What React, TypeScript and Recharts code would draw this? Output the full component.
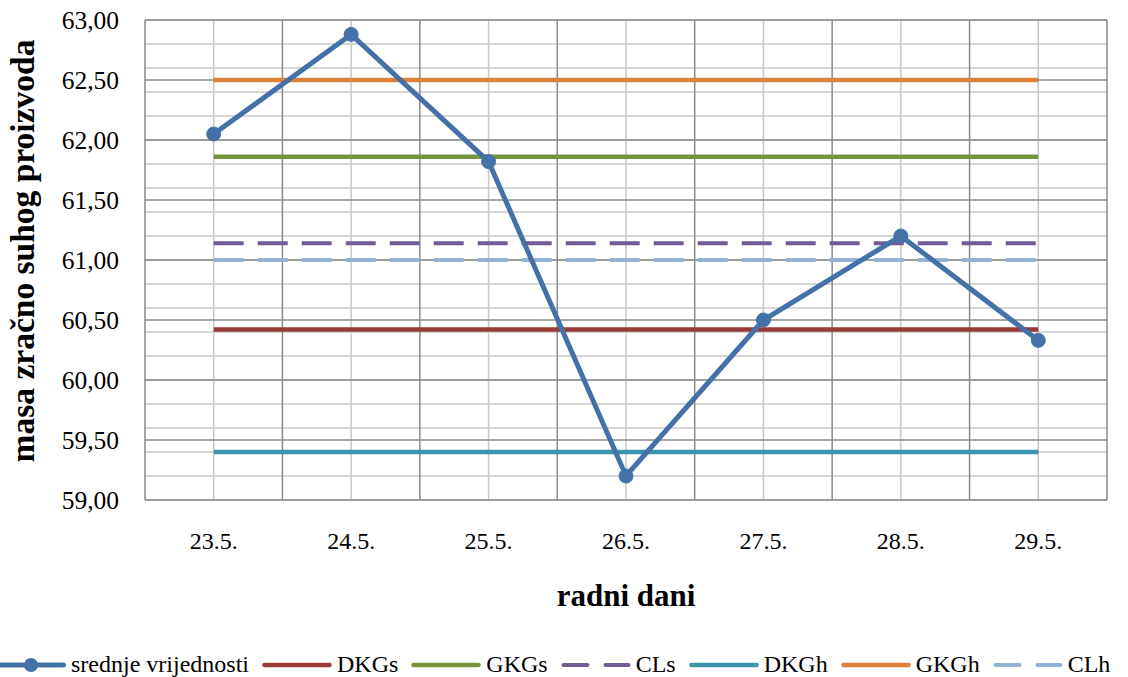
import React from "react";
import { CartesianGrid, Line, LineChart, XAxis, YAxis, Label } from "recharts";

const days = ["23.5.", "24.5.", "25.5.", "26.5.", "27.5.", "28.5.", "29.5."];
const srednje = [62.05, 62.88, 61.82, 59.2, 60.5, 61.2, 60.33];
const dkgs = [60.42, 60.42, 60.42, 60.42, 60.42, 60.42, 60.42];
const gkgs = [61.86, 61.86, 61.86, 61.86, 61.86, 61.86, 61.86];
const cls = [61.14, 61.14, 61.14, 61.14, 61.14, 61.14, 61.14];
const dkgh = [59.4, 59.4, 59.4, 59.4, 59.4, 59.4, 59.4];
const gkgh = [62.5, 62.5, 62.5, 62.5, 62.5, 62.5, 62.5];
const clh = [61.0, 61.0, 61.0, 61.0, 61.0, 61.0, 61.0];

const yTicks = [59, 59.5, 60, 60.5, 61, 61.5, 62, 62.5, 63];
const xCenters = [0.5, 1.5, 2.5, 3.5, 4.5, 5.5, 6.5];
const xBounds = [0, 1, 2, 3, 4, 5, 6, 7];
const yMinor = Array.from({ length: 41 }, (_, i) => +(59 + i * 0.1).toFixed(1));

const data = days.map((d, i) => ({
  x: xCenters[i],
  day: d,
  srednje: srednje[i],
  dkgs: dkgs[i],
  gkgs: gkgs[i],
  cls: cls[i],
  dkgh: dkgh[i],
  gkgh: gkgh[i],
  clh: clh[i],
}));

const FONT = "'Liberation Serif', 'Times New Roman', serif";

const series = [
  { key: "srednje", name: "srednje vrijednosti", color: "#4472a8", dash: undefined, width: 5 },
  { key: "dkgs", name: "DKGs", color: "#983a36", dash: undefined, width: 4.5 },
  { key: "gkgs", name: "GKGs", color: "#77953c", dash: undefined, width: 4.5 },
  { key: "cls", name: "CLs", color: "#735b95", dash: "30 14", width: 4 },
  { key: "dkgh", name: "DKGh", color: "#3a94ae", dash: undefined, width: 4.5 },
  { key: "gkgh", name: "GKGh", color: "#e0803a", dash: undefined, width: 4.5 },
  { key: "clh", name: "CLh", color: "#94b1d6", dash: "30 14", width: 4 },
];

const fmt = (v: number) => v.toFixed(2).replace(".", ",");

function XTick(props: any) {
  const { x, y, payload } = props;
  return (
    <text x={x} y={y + 41} textAnchor="middle" fontFamily={FONT} fontSize={24} fill="#000">
      {days[Math.round(payload.value - 0.5)]}
    </text>
  );
}

function YTick(props: any) {
  const { y, payload } = props;
  return (
    <text x={119} y={y + 9} textAnchor="end" fontFamily={FONT} fontSize={25.5} fill="#000">
      {fmt(payload.value)}
    </text>
  );
}

function LegendRow() {
  return (
    <div
      style={{
        position: "absolute",
        left: -4,
        top: 651,
        width: 1140,
        display: "flex",
        alignItems: "center",
        fontFamily: FONT,
        fontSize: 24,
        color: "#000",
        whiteSpace: "nowrap",
      }}
    >
      {series.map((s) => (
        <div key={s.key} style={{ display: "flex", alignItems: "center", marginRight: 13 }}>
          <svg width={70} height={20} style={{ marginRight: 5 }}>
            <line
              x1={2.5}
              x2={67.5}
              y1={10}
              y2={10}
              stroke={s.color}
              strokeWidth={s.width}
              strokeLinecap="round"
              strokeDasharray={s.dash ? "24 18" : undefined}
            />
            {s.key === "srednje" ? <circle cx={35} cy={10} r={7} fill={s.color} /> : null}
          </svg>
          <span>{s.name}</span>
        </div>
      ))}
    </div>
  );
}

export default function App() {
  return (
    <div
      style={{
        position: "absolute",
        left: 0,
        top: 0,
        width: 1128,
        height: 677,
        background: "#fff",
        fontFamily: FONT,
        overflow: "hidden",
      }}
    >
      <LineChart width={1128} height={677} data={data} margin={{ top: 20, right: 21, bottom: 67, left: 0 }}>
        <CartesianGrid stroke="#c8c8c8" strokeWidth={1.5} horizontalValues={yMinor} verticalValues={xCenters} />
        <CartesianGrid stroke="#8a8a8a" strokeWidth={1.5} horizontalValues={yTicks} verticalValues={xBounds} />
        <XAxis
          dataKey="x"
          type="number"
          domain={[0, 7]}
          ticks={xCenters}
          axisLine={false}
          tickLine={false}
          height={110}
          tick={<XTick />}
        >
          <Label
            content={() => (
              <text x={626} y={606} textAnchor="middle" fontFamily={FONT} fontSize={31} fontWeight="bold" fill="#000">
                radni dani
              </text>
            )}
          />
        </XAxis>
        <YAxis
          type="number"
          domain={[59, 63]}
          ticks={yTicks}
          axisLine={false}
          tickLine={false}
          width={145}
          tick={<YTick />}
        >
          <Label
            content={() => (
              <text
                x={0}
                y={0}
                transform="translate(34, 251) rotate(-90)"
                textAnchor="middle"
                fontFamily={FONT}
                fontSize={33.5}
                fontWeight="bold"
                fill="#000"
              >
                masa zračno suhog proizvoda
              </text>
            )}
          />
        </YAxis>
        {series.slice(1).map((s) => (
          <Line
            key={s.key}
            dataKey={s.key}
            name={s.name}
            stroke={s.color}
            strokeWidth={s.width}
            strokeDasharray={s.dash}
            dot={false}
            activeDot={false}
            isAnimationActive={false}
          />
        ))}
        <Line
          dataKey="srednje"
          name="srednje vrijednosti"
          stroke={series[0].color}
          strokeWidth={5}
          dot={{ r: 7, fill: series[0].color, stroke: series[0].color, strokeWidth: 1 }}
          activeDot={false}
          isAnimationActive={false}
        />
      </LineChart>
      <LegendRow />
    </div>
  );
}
